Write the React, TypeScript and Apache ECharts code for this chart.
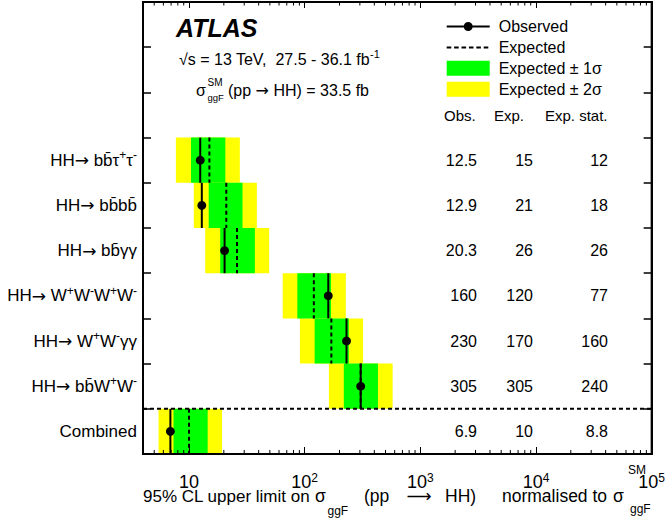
import React, { useEffect, useRef } from 'react';
import * as echarts from 'echarts';

// ---------------- data (listed top to bottom) ----------------
const channels = [
  'HH\u2192 bb\u0304\u03c4^+\u03c4^-',
  'HH\u2192 bb\u0304bb\u0304',
  'HH\u2192 bb\u0304\u03b3\u03b3',
  'HH\u2192 W^+W^-W^+W^-',
  'HH\u2192 W^+W^-\u03b3\u03b3',
  'HH\u2192 bb\u0304W^+W^-',
  'Combined',
];
const observed = [12.5, 12.9, 20.3, 160, 230, 305, 6.9];
const expected = [15, 21, 26, 120, 170, 305, 10];
const expectedStat = [12, 18, 26, 77, 160, 240, 8.8];
const band1Low = [10.4, 14.8, 18.6, 86.4, 122, 218, 7.34];
const band1High = [20.6, 29.0, 37.1, 169, 241, 430, 14.5];
const band2Low = [7.7, 11.0, 13.8, 64.6, 91, 162, 5.45];
const band2High = [27.5, 38.6, 49.3, 227, 320, 576, 19.3];
const tableHeaders = ['Obs.', 'Exp.', 'Exp. stat.'];
const emptyRows = 3;
const xMin = 4;
const xMax = 100000;
const minorTickValues = [
  5, 6, 7, 8, 9,
  20, 30, 40, 50, 60, 70, 80, 90,
  200, 300, 400, 500, 600, 700, 800, 900,
  2000, 3000, 4000, 5000, 6000, 7000, 8000, 9000,
  20000, 30000, 40000, 50000, 60000, 70000, 80000, 90000,
];

// ---------------- styles ----------------
const FONT = 'Liberation Sans, Arial, Helvetica, sans-serif';
const ARROW_FONT = 'DejaVu Sans, Liberation Sans, sans-serif';
const GREEN = '#00ff00';
const YELLOW = '#ffff00';
const tableColRight = [477, 533, 608];
const headerColLeft = [444, 494, 545];

const yCategories = [...Array(emptyRows).fill(''), ...channels];

const toRich = (s: string) =>
  s
    ? s
        .split(/(\^.|\u2192)/)
        .filter(Boolean)
        .map((p) => (p[0] === '^' ? `{s|${p[1]}}` : p === '\u2192' ? `{r|${p}}` : `{a|${p}}`))
        .join('')
    : '';

const txt = (text: string, x: number, y: number, size: number, extra: any = {}) => ({
  type: 'text',
  x,
  y,
  silent: true,
  style: {
    text,
    fill: '#000',
    fontSize: size,
    fontFamily: FONT,
    align: 'left',
    textAlign: 'left',
    verticalAlign: 'middle',
    textVerticalAlign: 'middle',
    ...extra,
  },
});

const obsIcon =
  'path://M0,0L0.01,0Z M43,15L42.99,15Z M0,6.5H17.5V8.5H0Z M25.5,6.5H43V8.5H25.5Z M17,7.5A4.5,4.5,0,1,1,26,7.5A4.5,4.5,0,1,1,17,7.5Z';
const expIcon =
  'path://M0,0L0.01,0Z M43,15L42.99,15Z M0,6.5H4.6V8.5H0Z M7.4,6.5H12V8.5H7.4Z M14.8,6.5H19.4V8.5H14.8Z M22.2,6.5H26.8V8.5H22.2Z M29.6,6.5H34.2V8.5H29.6Z M37,6.5H41.6V8.5H37Z';

export default function App() {
  const ref = useRef<HTMLDivElement>(null);

  useEffect(() => {
    if (!ref.current) return;
    const chart = echarts.init(ref.current, null, { renderer: 'svg' });

    const bandRender = (color: string) => (params: any, api: any) => {
      const row = api.value(0);
      const p1 = api.coord([api.value(1), row]);
      const p2 = api.coord([api.value(2), row]);
      const h = api.size([0, 1])[1];
      return {
        type: 'rect',
        shape: { x: p1[0], y: p1[1] - h / 2, width: p2[0] - p1[0], height: h },
        style: { fill: color },
      };
    };

    const option: any = {
      animation: false,
      backgroundColor: '#fff',
      textStyle: { fontFamily: FONT },
      grid: {
        left: 143,
        right: 14,
        top: 2,
        bottom: 65,
        show: true,
        borderColor: '#000',
        borderWidth: 2,
        backgroundColor: 'transparent',
      },
      legend: {
        orient: 'vertical',
        left: 446.7,
        top: 18.5,
        padding: 0,
        itemWidth: 43,
        itemHeight: 15,
        itemGap: 4.9,
        selectedMode: false,
        textStyle: { fontSize: 16, fontFamily: FONT, color: '#000', padding: [0, 0, 0, 4] },
        data: [
          { name: 'Observed', icon: obsIcon },
          { name: 'Expected', icon: expIcon },
          { name: 'Expected \u00b1 1\u03c3', icon: 'rect' },
          { name: 'Expected \u00b1 2\u03c3', icon: 'rect' },
        ],
      },
      xAxis: [
        {
          type: 'log',
          logBase: 10,
          min: xMin,
          max: xMax,
          position: 'bottom',
          z: 5,
          axisLine: { show: true, onZero: false, lineStyle: { color: '#000', width: 2 } },
          axisTick: { show: true, inside: true, length: 7, lineStyle: { color: '#000', width: 1 } },
          splitLine: { show: false },
          axisLabel: {
            showMinLabel: false,
            margin: 18,
            color: '#000',
            formatter: (v: number) => {
              const e = Math.round(Math.log10(v));
              return e === 1 ? '{a|10}' : `{a|10}{s|${e}}`;
            },
            rich: {
              a: { fontSize: 18, fontFamily: FONT, color: '#000', lineHeight: 20 },
              s: { fontSize: 12, fontFamily: FONT, color: '#000', lineHeight: 1, verticalAlign: 'top' },
            },
          },
        },
        {
          type: 'log',
          logBase: 10,
          min: xMin,
          max: xMax,
          position: 'top',
          z: 5,
          axisLine: { show: true, onZero: false, lineStyle: { color: '#000', width: 2 } },
          axisTick: { show: true, inside: true, length: 6, lineStyle: { color: '#000', width: 1 } },
          splitLine: { show: false },
          axisLabel: { show: false },
        },
      ],
      yAxis: [
        {
          type: 'category',
          inverse: true,
          data: yCategories,
          z: 5,
          axisLine: { show: true, onZero: false, lineStyle: { color: '#000', width: 2 } },
          axisTick: { show: true, inside: true, length: 8, lineStyle: { color: '#000', width: 1.5 } },
          splitLine: { show: false },
          axisLabel: {
            margin: 6,
            color: '#000',
            formatter: (v: string) => toRich(v),
            rich: {
              a: { fontSize: 17, fontFamily: FONT, color: '#000', lineHeight: 22 },
              r: { fontSize: 17, fontFamily: ARROW_FONT, color: '#000', lineHeight: 22 },
              s: { fontSize: 12, fontFamily: FONT, color: '#000', lineHeight: 11, verticalAlign: 'top' },
            },
          },
        },
        {
          type: 'category',
          inverse: true,
          data: yCategories,
          position: 'right',
          z: 5,
          axisLine: { show: true, onZero: false, lineStyle: { color: '#000', width: 2 } },
          axisTick: { show: true, inside: true, length: 8, lineStyle: { color: '#000', width: 1.5 } },
          splitLine: { show: false },
          axisLabel: { show: false },
        },
      ],
      series: [
        {
          name: 'Expected \u00b1 2\u03c3',
          type: 'custom',
          itemStyle: { color: YELLOW },
          encode: { x: [1, 2], y: 0 },
          data: channels.map((_, i) => [i + emptyRows, band2Low[i], band2High[i]]),
          renderItem: bandRender(YELLOW),
        },
        {
          name: 'Expected \u00b1 1\u03c3',
          type: 'custom',
          itemStyle: { color: GREEN },
          encode: { x: [1, 2], y: 0 },
          data: channels.map((_, i) => [i + emptyRows, band1Low[i], band1High[i]]),
          renderItem: bandRender(GREEN),
        },
        {
          name: 'Expected',
          type: 'custom',
          itemStyle: { color: '#000' },
          encode: { x: 1, y: 0 },
          data: channels.map((_, i) => [i + emptyRows, expected[i]]),
          renderItem: (params: any, api: any) => {
            const p = api.coord([api.value(1), api.value(0)]);
            const h = api.size([0, 1])[1];
            return {
              type: 'line',
              shape: { x1: p[0], y1: p[1] - h / 2, x2: p[0], y2: p[1] + h / 2 },
              style: { stroke: '#000', lineWidth: 2, lineDash: [4, 3] },
            };
          },
        },
        {
          name: 'Observed',
          type: 'custom',
          itemStyle: { color: '#000' },
          encode: { x: 1, y: 0 },
          data: channels.map((_, i) => [i + emptyRows, observed[i]]),
          renderItem: (params: any, api: any) => {
            const p = api.coord([api.value(1), api.value(0)]);
            const h = api.size([0, 1])[1];
            return {
              type: 'group',
              children: [
                {
                  type: 'line',
                  shape: { x1: p[0], y1: p[1] - h / 2, x2: p[0], y2: p[1] + h / 2 },
                  style: { stroke: '#000', lineWidth: 2 },
                },
                { type: 'circle', shape: { cx: p[0], cy: p[1], r: 4.4 }, style: { fill: '#000' } },
              ],
            };
          },
        },
        {
          name: 'separator',
          type: 'custom',
          z: 4,
          encode: { y: 0 },
          data: [[yCategories.length - 1]],
          renderItem: (params: any, api: any) => {
            const cs = params.coordSys;
            const y = api.coord([xMin, api.value(0)])[1] - api.size([0, 1])[1] / 2;
            return {
              type: 'line',
              shape: { x1: cs.x, y1: y, x2: cs.x + cs.width, y2: y },
              style: { stroke: '#000', lineWidth: 2, lineDash: [4, 3] },
            };
          },
        },
        {
          name: 'minorTicks',
          type: 'custom',
          z: 6,
          silent: true,
          encode: { x: 0, y: 1 },
          data: minorTickValues.map((v) => [v, 0]),
          renderItem: (params: any, api: any) => {
            const cs = params.coordSys;
            const x = api.coord([api.value(0), 0])[0];
            const yb = cs.y + cs.height;
            const yt = cs.y;
            return {
              type: 'group',
              children: [
                { type: 'line', shape: { x1: x, y1: yb, x2: x, y2: yb - 4 }, style: { stroke: '#000', lineWidth: 1 } },
                { type: 'line', shape: { x1: x, y1: yt, x2: x, y2: yt + 3.5 }, style: { stroke: '#000', lineWidth: 1 } },
              ],
            };
          },
        },
        {
          name: 'table',
          type: 'custom',
          silent: true,
          encode: { y: 0 },
          data: channels.map((_, i) => [i + emptyRows, observed[i], expected[i], expectedStat[i]]),
          renderItem: (params: any, api: any) => {
            const y = api.coord([xMin, api.value(0)])[1];
            const vals = [api.value(1), api.value(2), api.value(3)];
            return {
              type: 'group',
              children: vals.map((v, k) => ({
                type: 'text',
                x: tableColRight[k],
                y,
                style: {
                  text: String(v),
                  fill: '#000',
                  fontSize: 16,
                  fontFamily: FONT,
                  align: 'right',
                  textAlign: 'right',
                  verticalAlign: 'middle',
                  textVerticalAlign: 'middle',
                },
              })),
            };
          },
        },
        {
          name: 'tableHeader',
          type: 'custom',
          silent: true,
          encode: { y: 0 },
          data: [[emptyRows - 1]],
          renderItem: (params: any, api: any) => {
            const y = api.coord([xMin, api.value(0)])[1];
            return {
              type: 'group',
              children: tableHeaders.map((t, k) => ({
                type: 'text',
                x: headerColLeft[k],
                y,
                style: {
                  text: t,
                  fill: '#000',
                  fontSize: 15,
                  fontFamily: FONT,
                  align: 'left',
                  textAlign: 'left',
                  verticalAlign: 'middle',
                  textVerticalAlign: 'middle',
                },
              })),
            };
          },
        },
      ],
      graphic: {
        elements: [
          txt('ATLAS', 176, 28, 25, { fontWeight: 'bold', fontStyle: 'italic' }),
          txt('{a|\u221as = 13 TeV,  27.5 - 36.1 fb}{s|-1}', 179, 59, 16, {
            rich: {
              a: { fontSize: 16, fontFamily: FONT, fill: '#000', lineHeight: 22 },
              s: { fontSize: 11, fontFamily: FONT, fill: '#000', lineHeight: 11, verticalAlign: 'top' },
            },
          }),
          txt('\u03c3', 196, 90, 16),
          txt('SM', 207.5, 82, 10),
          txt('ggF', 207.5, 97.5, 9.5),
          txt('{a|(pp }{r|\u2192}{a| HH) = 33.5 fb}', 228, 90, 16, {
            rich: {
              a: { fontSize: 16, fontFamily: FONT, fill: '#000' },
              r: { fontSize: 16, fontFamily: ARROW_FONT, fill: '#000' },
            },
          }),
          // x-axis title
          txt('95% CL upper limit on', 143, 496, 17),
          txt('\u03c3', 315, 496, 17.5),
          txt('ggF', 327.5, 511, 12),
          txt('(pp', 364, 496, 17.5),
          txt('\u27f6', 419, 496, 17.5, { fontFamily: ARROW_FONT, align: 'center', textAlign: 'center' }),
          txt('HH)', 445, 496, 17.5),
          txt('normalised to', 502, 496, 17.5),
          txt('\u03c3', 613, 496, 17.5),
          txt('SM', 628, 470, 12),
          txt('ggF', 630, 509, 12),
        ],
      },
    };

    chart.setOption(option);
    return () => chart.dispose();
  }, []);

  return (
    <div
      ref={ref}
      style={{ position: 'absolute', left: 0, top: 0, width: 668, height: 519, background: '#fff' }}
    />
  );
}
